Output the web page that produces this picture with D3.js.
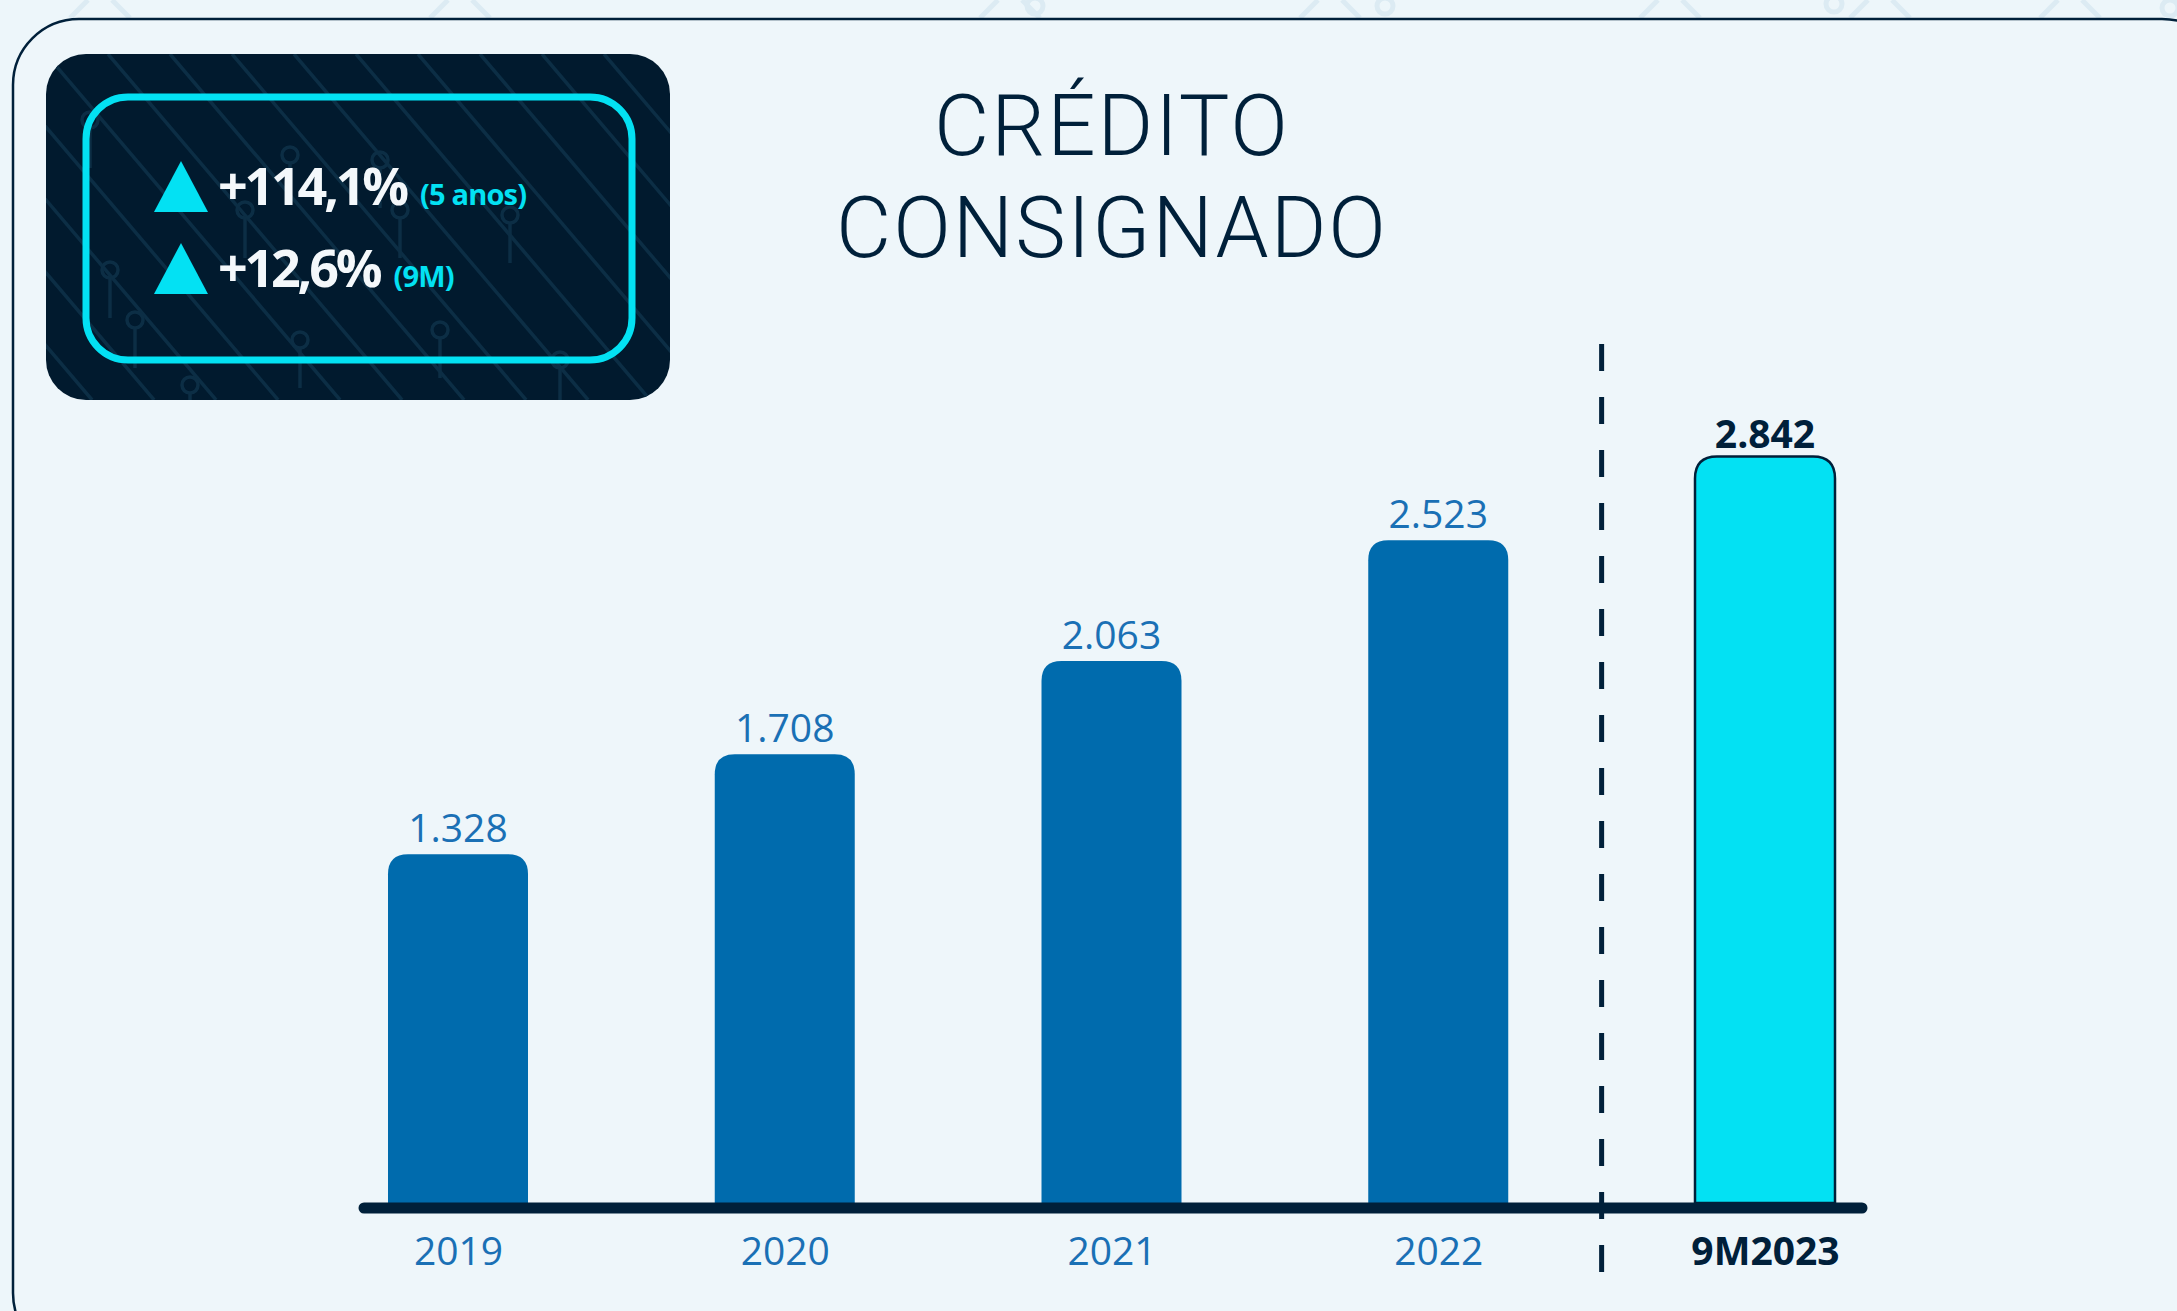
<!DOCTYPE html>
<html lang="pt-BR">
<head>
<meta charset="utf-8">
<title>Crédito Consignado</title>
<script src="https://cdn.jsdelivr.net/npm/d3@7"></script>
<style>
  html, body { margin: 0; padding: 0; background: #edf6fa; }
  svg { display: block; }
</style>
</head>
<body>
<div id="chart"></div>
<script>
// ---------------------------------------------------------------------------
// data
// ---------------------------------------------------------------------------
const categories = ["2019", "2020", "2021", "2022", "9M2023"];
const values = [1328, 1708, 2063, 2523, 2842];
const highlightCategory = "9M2023";

const titleLines = ["CRÉDITO", "CONSIGNADO"];
const growthValues = ["+114,1%", "+12,6%"];
const growthPeriods = ["(5 anos)", "(9M)"];

// ---------------------------------------------------------------------------
// layout
// ---------------------------------------------------------------------------
const W = 2177, H = 1311;
const COLORS = {
    bg: "#edf6fa",
    navy: "#00203a",
    blue: "#006bad",
    blueText: "#1a70b5",
    cyan: "#03e1f3",
    box: "#011a2e",
    boxLine: "#0c2e45"
};
const FONT = "'Open Sans', 'Noto Sans', sans-serif";
// Roboto's tighter line metrics keep the two title lines from overlapping
const TITLE_FONT = "Roboto, 'Open Sans', sans-serif";

const baseY = 1203;          // top edge of the axis bar
const barW = 140;

// pt-BR number format: 1.328
const fmt = d3.formatLocale({ decimal: ",", thousands: ".", grouping: [3], currency: ["R$", ""] })
    .format(",d");

const svg = d3.select("#chart").append("svg")
    .attr("width", W).attr("height", H)
    .attr("viewBox", `0 0 ${W} ${H}`);

svg.append("rect").attr("width", W).attr("height", H).attr("fill", COLORS.bg);

// faint circuit traces in the strip above the panel
const faint = svg.append("g").attr("stroke", "#dcebf3").attr("stroke-width", 5).attr("fill", "none");
[70, 430, 980, 1300, 1640, 1850, 2040].forEach(x => {
    faint.append("path").attr("d", `M${x},18 L${x + 18},0`);
    faint.append("path").attr("d", `M${x + 60},18 L${x + 42},0`);
});
[[1035, 6], [1385, 6], [1834, 4], [2170, 8]].forEach(([x, y]) =>
    faint.append("circle").attr("cx", x).attr("cy", y).attr("r", 8));

// outer panel (runs off the right and bottom edges)
svg.append("rect")
    .attr("x", 13).attr("y", 19)
    .attr("width", 2215).attr("height", 1340)
    .attr("rx", 66)
    .attr("fill", "#eef6fa")
    .attr("stroke", COLORS.navy).attr("stroke-width", 2.5);

// ---------------------------------------------------------------------------
// highlight box (top left)
// ---------------------------------------------------------------------------
const box = { x: 46, y: 54, w: 624, h: 346, r: 40 };
const defs = svg.append("defs");
defs.append("clipPath").attr("id", "boxClip")
    .append("rect").attr("x", box.x).attr("y", box.y)
    .attr("width", box.w).attr("height", box.h).attr("rx", box.r);

const boxG = svg.append("g");
boxG.append("rect")
    .attr("x", box.x).attr("y", box.y)
    .attr("width", box.w).attr("height", box.h).attr("rx", box.r)
    .attr("fill", COLORS.box);

// circuit-board pattern inside the box (decoration only)
const circuit = boxG.append("g").attr("clip-path", "url(#boxClip)")
    .attr("stroke", COLORS.boxLine).attr("stroke-width", 3.5).attr("fill", "none");
d3.range(-6, 14).forEach(i => {
    const x0 = box.x + i * 62;
    circuit.append("path").attr("d", `M${x0},${box.y} l${box.h * 0.85},${box.h}`);
});
[[90, 120], [245, 210], [290, 155], [380, 160], [400, 210], [510, 215],
 [135, 320], [190, 385], [300, 340], [440, 330], [560, 360], [110, 270]]
    .forEach(([cx, cy]) => {
        circuit.append("circle").attr("cx", cx).attr("cy", cy).attr("r", 8);
        circuit.append("path").attr("d", `M${cx},${cy + 8} v40`);
    });

boxG.append("rect")
    .attr("x", 86).attr("y", 97)
    .attr("width", 546).attr("height", 263).attr("rx", 42)
    .attr("fill", "none")
    .attr("stroke", COLORS.cyan).attr("stroke-width", 7);

const rowY = [205, 287];       // text baselines
growthValues.forEach((v, i) => {
    const by = rowY[i];
    boxG.append("path")
        .attr("d", `M154,${by + 7} L181,${by - 44} L208,${by + 7} Z`)
        .attr("fill", COLORS.cyan);
    const t = boxG.append("text")
        .attr("x", 218).attr("y", by)
        .attr("font-family", FONT).attr("font-weight", 700);
    t.append("tspan")
        .attr("font-size", 52).attr("fill", "#f4f8fb")
        .attr("letter-spacing", -3.2)
        .text(v);
    t.append("tspan")
        .attr("dx", 14)
        .attr("font-size", 29).attr("fill", COLORS.cyan).attr("letter-spacing", -0.8)
        .text(growthPeriods[i]);
});

// ---------------------------------------------------------------------------
// title
// ---------------------------------------------------------------------------
svg.append("g").selectAll("text")
    .data(titleLines)
    .join("text")
    .attr("x", 1112)
    .attr("y", (d, i) => 155 + i * 102)
    .attr("text-anchor", "middle")
    .attr("font-family", TITLE_FONT).attr("font-weight", 300)
    .attr("font-size", 85)
    .attr("letter-spacing", 2)
    .attr("fill", COLORS.navy)
    .text(d => d);

// ---------------------------------------------------------------------------
// bars
// ---------------------------------------------------------------------------
const x = d3.scalePoint().domain(categories).range([458, 1765]);
const y = d3.scaleLinear().domain([0, 3000]).range([baseY, baseY - 788]);

const data = categories.map((c, i) => ({ cat: c, value: values[i], hi: c === highlightCategory }));

// rounded-top column
function topRounded(cx, top, bottom, w, r) {
    const x0 = cx - w / 2, x1 = cx + w / 2;
    return `M${x0},${bottom} V${top + r} Q${x0},${top} ${x0 + r},${top} ` +
           `H${x1 - r} Q${x1},${top} ${x1},${top + r} V${bottom} Z`;
}

const bars = svg.append("g");
bars.selectAll("path")
    .data(data)
    .join("path")
    .attr("d", d => topRounded(x(d.cat), y(d.value), baseY, barW, d.hi ? 22 : 20))
    .attr("fill", d => d.hi ? COLORS.cyan : COLORS.blue)
    .attr("stroke", d => d.hi ? COLORS.navy : "none")
    .attr("stroke-width", 2.5);

bars.selectAll("text")
    .data(data)
    .join("text")
    .attr("x", d => x(d.cat))
    .attr("y", d => y(d.value) - (d.hi ? 9 : 12))
    .attr("text-anchor", "middle")
    .attr("font-family", FONT)
    .attr("font-size", 39)
    .attr("font-weight", d => d.hi ? 700 : 400)
    .attr("fill", d => d.hi ? COLORS.navy : COLORS.blueText)
    .text(d => fmt(d.value));

// separator between full years and 9M2023
const sepX = (x(categories[3]) + x(categories[4])) / 2;
svg.append("line")
    .attr("x1", sepX).attr("x2", sepX)
    .attr("y1", 344).attr("y2", 1276)
    .attr("stroke", COLORS.navy).attr("stroke-width", 5)
    .attr("stroke-dasharray", "27 26");

// baseline
svg.append("line")
    .attr("x1", 364).attr("x2", 1862)
    .attr("y1", baseY + 5).attr("y2", baseY + 5)
    .attr("stroke", COLORS.navy).attr("stroke-width", 11)
    .attr("stroke-linecap", "round");

// x-axis labels via d3.axisBottom, stripped of its domain and ticks
const axisG = svg.append("g")
    .attr("transform", `translate(0, ${baseY})`)
    .call(d3.axisBottom(x).tickSize(0).tickPadding(0));
axisG.select(".domain").remove();
axisG.selectAll("text")
    .attr("y", 62).attr("dy", 0)
    .attr("font-family", FONT)
    .attr("font-size", 39)
    .attr("font-weight", d => d === highlightCategory ? 700 : 400)
    .attr("fill", d => d === highlightCategory ? COLORS.navy : COLORS.blueText);
</script>
</body>
</html>
